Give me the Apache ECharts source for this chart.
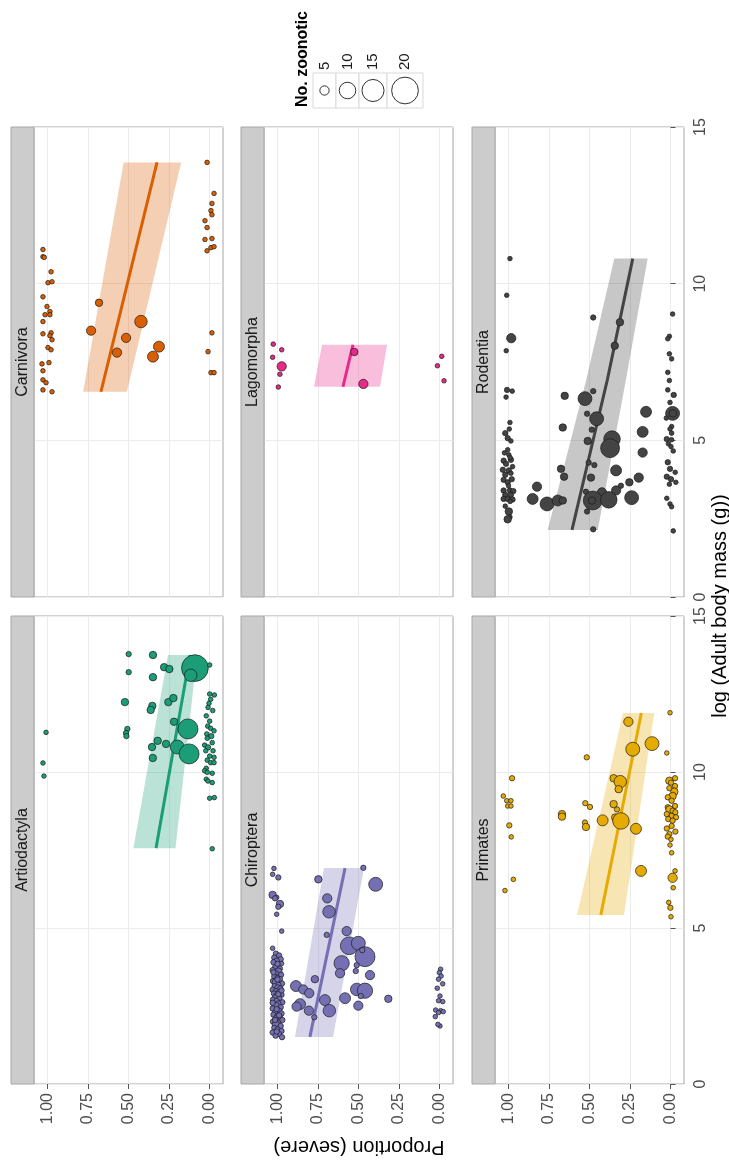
<!DOCTYPE html>
<html>
<head>
<meta charset="utf-8">
<script src="https://cdn.jsdelivr.net/npm/echarts@6/dist/echarts.min.js"></script>
<style>
  html, body { margin: 0; padding: 0; background: #ffffff; }
  #chart { width: 729px; height: 1161px; }
</style>
</head>
<body>
<div id="chart"></div>
<script>
// Proportion of severe zoonoses against log adult body mass, one panel per order.
// The figure is laid out turned a quarter turn: body mass runs upwards, proportion runs leftwards.

const orders = ['Artiodactyla', 'Carnivora', 'Chiroptera', 'Lagomorpha', 'Primates', 'Rodentia'];
const orderColors = ['#1b9e77', '#d95f02', '#7570b3', '#e7298a', '#e6ab02', '#444444'];
const proportionTicks = [0, 0.25, 0.5, 0.75, 1];
const massTicks = [0, 5, 10, 15];
const sizeLegendValues = [5, 10, 15, 20];

// species points: [log body mass, proportion severe, no. zoonotic]
const artiodactylaPoints = [
  [11.27, 1.009, 2], [10.29, 1.028, 2], [9.87, 1.022, 2],
  [13.78, 0.499, 3], [13.75, 0.349, 4], [13.2, 0.499, 3], [13.04, 0.349, 4],
  [13.36, 0.28, 4], [13.3, 0.248, 4], [13.33, 0.09, 20], [13.1, 0.116, 7], [13.43, -0.001, 2],
  [12.24, 0.522, 4], [12.12, 0.353, 4], [11.99, 0.363, 4], [12.24, 0.254, 4], [12.37, 0.223, 4],
  [11.61, 0.219, 4], [11.38, 0.133, 13], [11.38, 0.507, 3], [11.25, 0.515, 3], [11.15, 0.513, 3],
  [11.0, 0.32, 4], [10.8, 0.355, 4], [10.9, 0.268, 4], [10.8, 0.199, 8], [10.58, 0.126, 13],
  [10.45, 0.35, 4], [7.54, -0.017, 2],
  [12.5, -0.001, 2], [12.47, -0.03, 2], [12.33, -0.007, 2], [12.2, 0.003, 2], [12.07, 0.009, 2],
  [11.97, -0.02, 2], [11.8, 0.02, 2], [11.63, -0.001, 2], [11.47, 0.011, 2], [11.4, -0.007, 2],
  [11.32, -0.028, 2], [11.22, 0.017, 2], [11.15, -0.011, 3], [11.08, 0.014, 2], [10.94, -0.017, 2],
  [10.86, 0.03, 2], [10.79, 0.009, 3], [10.68, -0.022, 2], [10.68, 0.023, 2], [10.51, -0.001, 2],
  [10.47, -0.028, 2], [10.38, 0.014, 2], [10.3, -0.007, 2], [10.3, -0.028, 2], [10.12, 0.02, 2],
  [10.04, 0.03, 2], [9.99, 0.014, 2], [9.96, -0.017, 2], [9.77, 0.02, 2], [9.71, 0.009, 2],
  [9.66, -0.017, 2], [9.16, -0.001, 2], [9.18, -0.03, 2]
];
const carnivoraPoints = [
  [11.09, 1.028, 2], [10.86, 1.028, 2], [10.84, 1.02, 2], [10.38, 0.978, 2], [10.03, 0.997, 2],
  [10.06, 0.972, 2], [9.58, 1.028, 2], [9.27, 1.003, 2], [9.01, 1.015, 2], [9.11, 0.985, 2],
  [9.01, 0.985, 2], [8.79, 1.028, 2], [8.4, 1.028, 2], [8.43, 0.978, 2], [8.34, 0.985, 2],
  [8.21, 0.972, 2], [7.96, 0.997, 2], [7.89, 0.978, 2], [7.44, 1.034, 2], [7.22, 1.028, 2],
  [7.48, 0.991, 2], [6.93, 1.028, 2], [6.84, 1.009, 2], [6.61, 1.028, 2], [6.55, 0.972, 2],
  [9.39, 0.682, 4], [8.5, 0.731, 5], [8.79, 0.423, 7], [8.27, 0.515, 5], [7.8, 0.571, 5],
  [7.99, 0.312, 6], [7.67, 0.349, 6],
  [13.87, 0.015, 2], [12.88, -0.028, 2], [12.56, -0.015, 2], [12.33, -0.009, 2], [12.2, -0.015, 2],
  [12.01, 0.028, 2], [11.79, 0.015, 2], [11.41, 0.028, 2], [11.44, -0.015, 2], [11.05, 0.015, 2],
  [11.15, -0.009, 2], [11.18, -0.028, 2], [8.43, -0.015, 2], [7.83, 0.009, 2], [7.16, -0.009, 2],
  [7.16, -0.028, 2]
];
const chiropteraPoints = [
  [6.91, 1.022, 2], [6.72, 1.03, 2], [6.62, 0.995, 3], [6.06, 1.03, 4], [5.98, 1.005, 2],
  [5.95, 1.015, 3], [5.77, 0.985, 4], [5.68, 0.995, 3], [5.44, 1.005, 2], [4.9, 0.974, 2],
  [4.35, 1.03, 2],
  [4.18, 1.01, 3], [4.12, 0.99, 3], [4.05, 1.02, 3], [4.0, 0.98, 3], [3.95, 1.005, 3],
  [3.9, 1.025, 3], [3.86, 0.975, 2], [3.8, 1.0, 3], [3.74, 1.015, 3], [3.7, 0.985, 3],
  [3.65, 1.03, 3], [3.6, 0.995, 4], [3.55, 1.01, 3], [3.5, 0.978, 3], [3.45, 1.02, 3],
  [3.4, 1.0, 3], [3.36, 0.985, 3], [3.3, 1.028, 3], [3.26, 1.01, 4], [3.22, 0.972, 3],
  [3.18, 0.995, 3], [3.14, 1.018, 3], [3.1, 1.0, 3], [3.06, 0.982, 3], [3.02, 1.03, 3],
  [2.98, 1.008, 3], [2.95, 0.99, 3], [2.9, 1.022, 3], [2.86, 0.975, 3], [2.82, 1.0, 4],
  [2.78, 1.015, 3], [2.74, 0.988, 3], [2.7, 1.028, 3], [2.66, 1.005, 3], [2.62, 0.97, 3],
  [2.58, 0.995, 3], [2.54, 1.02, 3], [2.5, 1.01, 4], [2.46, 0.98, 3], [2.42, 1.03, 3],
  [2.38, 1.0, 3], [2.34, 0.988, 3], [2.3, 1.015, 3], [2.26, 0.975, 3], [2.22, 1.025, 3],
  [2.18, 1.0, 3], [2.14, 0.985, 3], [2.1, 1.012, 3], [2.05, 0.97, 3], [2.0, 1.028, 3],
  [1.95, 0.995, 3], [1.9, 1.01, 4], [1.86, 0.98, 3], [1.8, 1.02, 3], [1.75, 1.0, 3],
  [1.7, 0.975, 3], [1.65, 1.03, 3], [1.6, 0.99, 3], [1.55, 1.012, 3], [1.5, 0.972, 3],
  [3.35, 1.0, 3], [2.88, 0.995, 3], [2.4, 1.005, 3], [3.58, 1.025, 3], [2.05, 1.015, 3],
  [1.68, 1.005, 3], [3.0, 0.975, 3], [2.6, 1.03, 3], [3.85, 1.0, 3], [2.2, 0.99, 3],
  [6.56, 0.748, 4], [6.93, 0.47, 3], [6.4, 0.394, 8], [5.95, 0.693, 5], [5.52, 0.682, 7],
  [4.78, 0.696, 3], [4.9, 0.573, 5], [4.43, 0.557, 11], [4.51, 0.501, 8], [4.08, 0.46, 13],
  [4.29, 0.477, 3], [3.87, 0.604, 9], [3.81, 0.511, 3], [3.55, 0.614, 5], [3.62, 0.517, 3],
  [3.49, 0.429, 5], [3.36, 0.769, 4], [3.14, 0.886, 6], [3.03, 0.841, 5], [2.91, 0.804, 5],
  [3.03, 0.511, 7], [2.99, 0.46, 9], [2.75, 0.583, 6], [2.82, 0.486, 3], [2.73, 0.316, 4],
  [2.69, 0.707, 6], [2.56, 0.861, 6], [2.48, 0.882, 5], [2.51, 0.501, 5], [2.35, 0.806, 5],
  [2.35, 0.68, 7], [2.14, 0.773, 3],
  [3.68, -0.007, 2], [3.57, 0.001, 2], [3.46, -0.01, 2], [3.36, 0.006, 2], [3.21, -0.02, 2],
  [3.07, 0.014, 2], [2.82, -0.003, 2], [2.67, 0.006, 2], [2.64, -0.02, 2], [2.37, 0.024, 2],
  [2.35, -0.007, 2], [2.32, -0.023, 2], [2.29, 0.006, 2], [2.16, 0.026, 2], [1.86, -0.003, 2],
  [1.91, 0.01, 2]
];
const lagomorphaPoints = [
  [8.07, 1.026, 2], [7.89, 0.974, 2], [7.65, 1.03, 2], [7.36, 0.974, 5], [7.11, 0.985, 2],
  [6.7, 0.995, 2], [7.82, 0.526, 4], [6.8, 0.47, 5],
  [7.68, -0.014, 2], [7.38, 0.013, 2], [6.9, -0.028, 2]
];
const primatesPoints = [
  [9.8, 0.978, 3], [9.23, 1.032, 2], [9.08, 1.011, 2], [9.08, 0.985, 2], [8.91, 1.005, 2],
  [8.91, 0.985, 2], [8.29, 0.995, 3], [7.92, 0.983, 2], [6.56, 0.97, 2], [6.2, 1.022, 2],
  [10.47, 0.517, 3], [8.65, 0.67, 4], [8.57, 0.67, 4], [9.0, 0.526, 3], [8.88, 0.497, 3],
  [8.38, 0.528, 3], [8.24, 0.522, 4], [8.45, 0.419, 6], [9.8, 0.351, 4], [9.69, 0.31, 7],
  [9.45, 0.32, 4], [8.97, 0.351, 4], [8.8, 0.33, 3], [8.54, 0.341, 4], [8.43, 0.306, 10],
  [8.18, 0.213, 6], [11.61, 0.26, 5], [10.73, 0.233, 8], [10.91, 0.114, 8], [6.83, 0.182, 6],
  [10.61, 0.023, 2], [11.9, 0.003, 2],
  [9.8, -0.028, 3], [9.72, 0.007, 4], [9.66, -0.003, 3], [9.55, -0.028, 3], [9.48, 0.007, 3],
  [9.37, -0.024, 4], [9.23, -0.013, 4], [9.19, 0.017, 3], [9.08, -0.007, 3], [8.91, -0.028, 3],
  [8.87, 0.017, 3], [8.8, 0.007, 4], [8.76, -0.013, 3], [8.71, -0.03, 3], [8.65, 0.023, 3],
  [8.59, -0.007, 3], [8.55, -0.034, 3], [8.49, 0.014, 3], [8.44, -0.013, 3], [8.27, -0.007, 3],
  [8.19, 0.023, 3], [8.09, -0.03, 3], [8.01, 0.007, 3], [7.93, 0.017, 3], [7.84, -0.003, 2],
  [7.66, 0.003, 2], [7.41, -0.007, 2], [6.83, -0.028, 2], [6.61, -0.013, 5], [6.29, -0.017, 2],
  [5.82, 0.011, 2], [5.65, 0.001, 3], [5.36, -0.003, 2]
];
const rodentiaPoints = [
  [10.8, 0.991, 2], [9.63, 1.011, 2], [8.26, 0.983, 5], [7.86, 1.014, 2], [6.61, 1.009, 3],
  [6.57, 0.977, 2], [6.38, 1.015, 2], [5.57, 0.991, 2], [5.36, 0.995, 2], [5.23, 1.02, 3],
  [5.07, 1.005, 3], [4.98, 0.985, 2], [4.7, 1.005, 2], [4.54, 0.998, 2], [4.35, 1.03, 3],
  [4.38, 0.985, 3], [4.25, 1.015, 3], [4.16, 0.975, 2], [4.06, 1.035, 3], [4.04, 0.998, 3],
  [3.9, 1.02, 3], [3.76, 0.98, 3], [3.74, 1.03, 3], [3.66, 1.005, 3], [3.4, 1.03, 3],
  [3.4, 0.991, 3], [3.38, 0.97, 3], [3.26, 1.02, 3], [3.26, 0.985, 3], [3.13, 1.03, 3],
  [3.13, 1.005, 3], [3.11, 0.975, 3], [2.73, 0.998, 4], [2.55, 0.991, 2], [2.48, 1.005, 4],
  [4.6, 1.025, 2], [4.45, 0.99, 2], [3.55, 1.0, 2], [3.05, 0.99, 2], [2.9, 1.02, 2], [3.95, 0.985, 2],
  [8.92, 0.477, 3], [8.77, 0.312, 4], [8.02, 0.344, 4], [6.42, 0.653, 4], [6.33, 0.528, 8],
  [6.57, 0.477, 3], [5.69, 0.456, 8], [5.85, 0.515, 3], [5.91, 0.151, 6], [5.41, 0.665, 4],
  [5.34, 0.486, 3], [4.98, 0.511, 4], [5.04, 0.361, 10], [4.75, 0.373, 12], [5.27, 0.172, 6],
  [4.61, 0.172, 5], [4.29, 0.505, 3], [4.21, 0.47, 3], [4.09, 0.676, 4], [4.04, 0.336, 6],
  [3.84, 0.657, 4], [3.81, 0.491, 4], [3.81, 0.196, 5], [3.66, 0.254, 4], [3.52, 0.824, 5],
  [3.55, 0.306, 3], [3.4, 0.336, 5], [3.34, 0.423, 5], [3.36, 0.522, 3], [3.13, 0.851, 6],
  [2.97, 0.762, 8], [3.08, 0.696, 6], [3.08, 0.665, 4], [3.08, 0.48, 12], [3.08, 0.485, 4],
  [3.1, 0.381, 10], [3.17, 0.24, 8], [2.73, 0.515, 3], [2.16, 0.477, 3],
  [9.03, -0.013, 2], [8.32, 0.007, 2], [8.24, 0.017, 2], [7.76, 0.007, 2], [7.6, -0.007, 2],
  [7.17, 0.017, 2], [6.91, 0.007, 2], [6.61, 0.017, 2], [6.45, -0.02, 3], [6.21, 0.003, 2],
  [5.9, -0.013, 2], [5.86, -0.013, 8], [5.86, -0.015, 4], [5.71, 0.026, 2], [5.44, -0.007, 2],
  [5.36, 0.003, 2], [5.23, -0.007, 2], [5.04, 0.023, 3], [5.02, -0.007, 2], [4.89, 0.013, 2],
  [4.8, -0.003, 2], [4.66, -0.017, 2], [4.3, 0.017, 3], [4.09, 0.003, 3], [3.98, -0.029, 2],
  [3.84, 0.023, 3], [3.76, -0.003, 3], [3.66, -0.033, 2], [3.6, 0.007, 2], [3.15, 0.023, 2],
  [2.97, 0.003, 2], [2.88, -0.007, 2], [2.11, -0.017, 2]
];

// fitted trend with its confidence band: [log body mass, lower, fit, upper]
const artiodactylaFit = [[7.56, 0.21, 0.33, 0.47], [13.75, 0.077, 0.12, 0.256]];
const carnivoraFit = [[6.55, 0.51, 0.67, 0.78], [13.87, 0.175, 0.324, 0.53]];
const chiropteraFit = [[1.51, 0.657, 0.8, 0.892], [6.92, 0.466, 0.583, 0.713]];
const lagomorphaFit = [[6.71, 0.367, 0.596, 0.775], [8.05, 0.324, 0.534, 0.725]];
const primatesFit = [[5.42, 0.287, 0.43, 0.577], [11.89, 0.1, 0.18, 0.293]];
const rodentiaFit = [[2.14, 0.449, 0.608, 0.758], [6.93, 0.275, 0.39, 0.52], [10.8, 0.141, 0.233, 0.347]];

const pointsByOrder = [artiodactylaPoints, carnivoraPoints, chiropteraPoints, lagomorphaPoints, primatesPoints, rodentiaPoints];
const fitsByOrder = [artiodactylaFit, carnivoraFit, chiropteraFit, lagomorphaFit, primatesFit, rodentiaFit];

const FONT = '"Liberation Sans", Arial, Helvetica, sans-serif';

// point diameter from the number of zoonoses (area scale)
function sizeOf(n) {
  return Math.max(4.6, 9.3 + 7.8 * (Math.sqrt(n) - Math.sqrt(5)));
}
function withAlpha(hex, a) {
  const v = parseInt(hex.slice(1), 16);
  return 'rgba(' + (v >> 16 & 255) + ',' + (v >> 8 & 255) + ',' + (v & 255) + ',' + a + ')';
}

// panel geometry (two panels per column, the second order of each pair on top)
const colLeft = [34, 264, 495];
const plotWidth = 189;
const rowTop = [127, 616];
const rowHeight = [470, 468];
const stripWidth = 23;

const grid = [], xAxis = [], yAxis = [], series = [], graphic = [];

orders.forEach((name, i) => {
  const col = Math.floor(i / 2);
  const row = i % 2 === 0 ? 1 : 0;
  const color = orderColors[i];
  const left = colLeft[col], top = rowTop[row], h = rowHeight[row];

  grid.push({
    left: left, top: top, width: plotWidth, height: h,
    show: true, backgroundColor: '#ffffff', borderColor: '#a6a6a6', borderWidth: 1,
    containLabel: false, outerBoundsMode: 'none'
  });

  xAxis.push({
    gridIndex: i, type: 'value', min: -0.0833, max: 1.0833, inverse: true,
    axisLine: { show: false },
    axisTick: { show: row === 1, customValues: proportionTicks, length: 5, lineStyle: { color: '#555555', width: 1 } },
    axisLabel: {
      show: row === 1, customValues: proportionTicks, rotate: 90, margin: 9,
      formatter: v => v.toFixed(2), fontSize: 16, color: '#4d4d4d', fontFamily: FONT
    },
    splitLine: { show: true, lineStyle: { color: '#ebebeb', width: 1 } }
  });

  yAxis.push({
    gridIndex: i, type: 'value', min: 0, max: 15, interval: 5, position: 'right',
    axisLine: { show: false },
    axisTick: { show: col === 2, length: 5, lineStyle: { color: '#555555', width: 1 } },
    axisLabel: {
      show: col === 2, rotate: 90, margin: 9, fontSize: 16, color: '#4d4d4d', fontFamily: FONT,
      formatter: v => (massTicks.indexOf(v) >= 0 ? String(v) : '')
    },
    splitLine: { show: true, lineStyle: { color: '#ebebeb', width: 1 } }
  });

  const fit = fitsByOrder[i];
  const band = withAlpha(color, 0.3);
  series.push({
    type: 'custom', xAxisIndex: i, yAxisIndex: i, z: 2, silent: true,
    data: [[fit[0][2], fit[0][0]]],
    renderItem: (params, api) => {
      const upper = fit.map(f => api.coord([f[3], f[0]]));
      const lower = fit.map(f => api.coord([f[1], f[0]])).reverse();
      return { type: 'polygon', shape: { points: upper.concat(lower) }, style: { fill: band } };
    }
  });
  series.push({
    type: 'line', xAxisIndex: i, yAxisIndex: i, z: 3, silent: true,
    data: fit.map(f => [f[2], f[0]]), symbol: 'none', smooth: false,
    lineStyle: { color: color, width: 3 }
  });
  series.push({
    type: 'scatter', xAxisIndex: i, yAxisIndex: i, z: 4,
    data: pointsByOrder[i].map(p => [p[1], p[0], p[2]]),
    symbolSize: v => sizeOf(v[2]),
    itemStyle: { color: color, borderColor: '#1a1a1a', borderWidth: 0.7, opacity: 1 }
  });

  // facet strip
  graphic.push({
    type: 'rect', shape: { x: left - stripWidth, y: top, width: stripWidth, height: h },
    style: { fill: '#cccccc', stroke: '#a6a6a6', lineWidth: 1 }, z: 10
  });
  graphic.push({
    type: 'text', x: left - stripWidth / 2, y: top + h / 2, rotation: Math.PI / 2, z: 11,
    style: { text: name, fontSize: 16, fontFamily: FONT, fill: '#1a1a1a', align: 'center', verticalAlign: 'middle' }
  });
});

// axis titles
graphic.push({
  type: 'text', x: 359, y: 1147, rotation: Math.PI, z: 11,
  style: { text: 'Proportion (severe)', fontSize: 20, fontFamily: FONT, fill: '#000000', align: 'center', verticalAlign: 'middle' }
});
graphic.push({
  type: 'text', x: 720, y: 606, rotation: Math.PI / 2, z: 11,
  style: { text: 'log (Adult body mass (g))', fontSize: 20, fontFamily: FONT, fill: '#000000', align: 'center', verticalAlign: 'middle' }
});

// size legend
graphic.push({
  type: 'text', x: 302.5, y: 107, rotation: Math.PI / 2, z: 11,
  style: { text: 'No. zoonotic', fontSize: 16, fontWeight: 'bold', fontFamily: FONT, fill: '#000000', align: 'left', verticalAlign: 'middle' }
});
const keyWidths = [23, 23, 28, 36];
let keyX = 313;
sizeLegendValues.forEach((v, k) => {
  const w = keyWidths[k];
  const cx = keyX + w / 2;
  graphic.push({
    type: 'rect', shape: { x: keyX, y: 73, width: w, height: 35 },
    style: { fill: '#ffffff', stroke: '#d9d9d9', lineWidth: 1 }, z: 10
  });
  graphic.push({
    type: 'circle', shape: { cx: cx, cy: 90.5, r: sizeOf(v) / 2 },
    style: { fill: '#ffffff', stroke: '#1a1a1a', lineWidth: 0.9 }, z: 11
  });
  graphic.push({
    type: 'text', x: cx, y: 70, rotation: Math.PI / 2, z: 11,
    style: { text: String(v), fontSize: 15, fontFamily: FONT, fill: '#1a1a1a', align: 'left', verticalAlign: 'middle' }
  });
  keyX += w;
});

const chart = echarts.init(document.getElementById('chart'), null, { renderer: 'canvas' });
chart.setOption({
  animation: false,
  backgroundColor: '#ffffff',
  grid: grid,
  xAxis: xAxis,
  yAxis: yAxis,
  series: series,
  graphic: graphic
});
</script>
</body>
</html>
